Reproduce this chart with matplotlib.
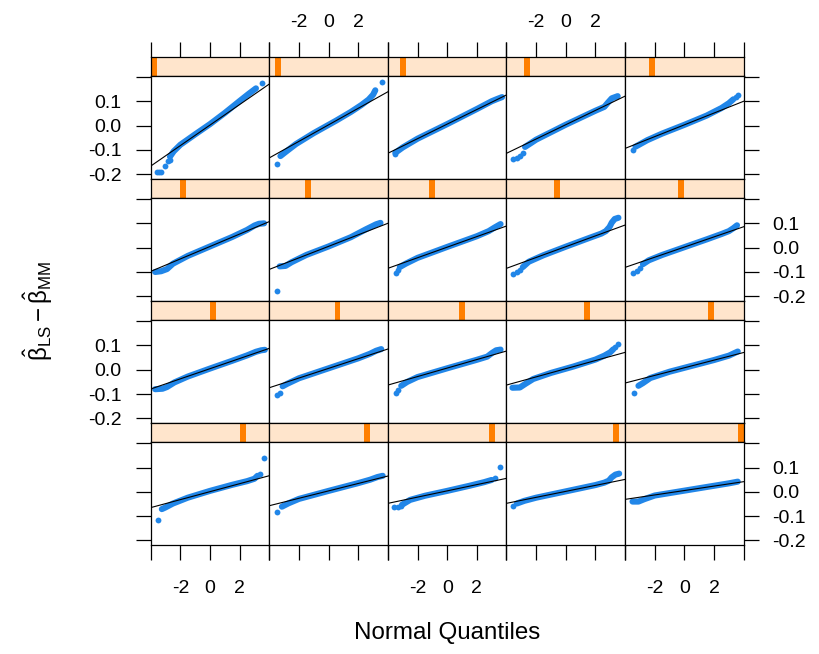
import matplotlib
matplotlib.use("Agg")
import matplotlib.pyplot as plt
from matplotlib.patches import Rectangle

plt.rcParams['font.family'] = ['Liberation Sans', 'DejaVu Sans']
plt.rcParams['mathtext.fontset'] = 'custom'
plt.rcParams['mathtext.rm'] = 'Liberation Sans'
plt.rcParams['mathtext.it'] = 'Liberation Sans:italic'

# qq reference line per panel (intercept, slope), panels 1..20 row by row
line_a = [0.002, 0.003, 0.006, 0.0035, 0.003,
          0.0048, 0.0054, 0.002, 0.004, 0.0025,
          0.0044, 0.0057, 0.007, 0.0043, 0.0082,
          0.0008, 0.004, 0.0041, 0.002, 0.0055]
line_b = [0.0422, 0.034, 0.030, 0.0294, 0.02425,
          0.0256, 0.0237, 0.02175, 0.02225, 0.0209,
          0.0209, 0.0199, 0.0175, 0.0168, 0.0157,
          0.0164, 0.01525, 0.01285, 0.0123, 0.0091]

# dense part of each qq curve (normal quantile, sample value)
p01_x = [-2.7, -2.45, -2.0, -1.0, 0.0, 1.0, 2.0, 2.6, 3.1]
p01_y = [-0.128, -0.106, -0.079, -0.036, 0.006, 0.052, 0.101, 0.130, 0.153]
p02_x = [-3.25, -2.8, -2.2, -1.0, 0.5, 1.5, 2.2, 2.7, 3.0, 3.15]
p02_y = [-0.1255, -0.104, -0.076, -0.031, 0.020, 0.056, 0.084, 0.107, 0.127, 0.145]
p03_x = [-3.5, -3.0, -2.0, 0.0, 2.0, 3.0, 3.4, 3.7]
p03_y = [-0.112, -0.090, -0.054, 0.006, 0.068, 0.100, 0.110, 0.117]
p04_x = [-2.75, -2.0, 0.0, 2.0, 2.6, 2.85, 3.1, 3.5]
p04_y = [-0.088, -0.058, 0.0035, 0.061, 0.077, 0.095, 0.112, 0.121]
p05_x = [-3.3, -2.5, -1.5, 0.0, 1.5, 2.5, 3.0, 3.3]
p05_y = [-0.087, -0.060, -0.033, 0.003, 0.041, 0.072, 0.092, 0.108]
p06_x = [-3.7, -3.3, -2.9, -2.5, -1.5, 0.0, 1.5, 2.5, 3.0, 3.3, 3.65]
p06_y = [-0.100, -0.097, -0.088, -0.066, -0.034, 0.005, 0.044, 0.073, 0.091, 0.098, 0.100]
p07_x = [-3.3, -2.9, -2.5, -1.5, 0.0, 1.5, 2.5, 2.9, 3.2, 3.5]
p07_y = [-0.077, -0.075, -0.060, -0.030, 0.005, 0.043, 0.075, 0.087, 0.096, 0.102]
p08_x = [-3.2, -2.8, -2.0, 0.0, 2.0, 2.8, 3.2, 3.6]
p08_y = [-0.080, -0.066, -0.042, 0.003, 0.047, 0.068, 0.083, 0.097]
p09_x = [-2.9, -2.5, -1.5, 0.0, 1.5, 2.4, 2.7, 2.95, 3.1, 3.3, 3.55]
p09_y = [-0.080, -0.058, -0.031, 0.004, 0.038, 0.058, 0.068, 0.085, 0.103, 0.118, 0.123]
p10_x = [-2.8, -2.4, -1.5, 0.0, 1.5, 2.5, 3.0, 3.3, 3.55]
p10_y = [-0.068, -0.052, -0.030, 0.002, 0.034, 0.056, 0.068, 0.080, 0.092]
p11_x = [-3.7, -3.2, -2.9, -2.4, -1.5, 0.0, 1.5, 2.5, 3.1, 3.45, 3.7]
p11_y = [-0.080, -0.078, -0.071, -0.052, -0.028, 0.005, 0.037, 0.059, 0.074, 0.080, 0.082]
p12_x = [-3.1, -2.8, -2.0, 0.0, 2.0, 2.8, 3.2, 3.55]
p12_y = [-0.068, -0.058, -0.035, 0.006, 0.047, 0.066, 0.078, 0.085]
p13_x = [-3.1, -2.7, -2.0, 0.0, 2.0, 2.7, 3.0, 3.3, 3.6]
p13_y = [-0.066, -0.050, -0.030, 0.006, 0.041, 0.054, 0.068, 0.080, 0.083]
p14_x = [-3.6, -3.1, -2.7, -2.2, -1.0, 0.5, 2.0, 2.6, 3.0, 3.2]
p14_y = [-0.074, -0.073, -0.057, -0.038, -0.013, 0.013, 0.042, 0.058, 0.072, 0.084]
p15_x = [-3.1, -2.8, -2.3, -1.0, 0.5, 2.0, 3.0, 3.6]
p15_y = [-0.066, -0.055, -0.034, -0.008, 0.016, 0.040, 0.058, 0.075]
p16_x = [-3.25, -3.0, -2.5, -1.5, 0.0, 1.5, 2.5, 3.0, 3.2]
p16_y = [-0.071, -0.064, -0.048, -0.024, 0.004, 0.029, 0.044, 0.054, 0.066]
p17_x = [-3.15, -2.7, -2.0, 0.0, 2.0, 2.8, 3.3, 3.65]
p17_y = [-0.061, -0.047, -0.029, 0.004, 0.036, 0.050, 0.061, 0.066]
p18_x = [-3.05, -2.5, -1.5, 0.0, 1.5, 2.5, 3.0]
p18_y = [-0.053, -0.033, -0.016, 0.004, 0.025, 0.040, 0.049]
p19_x = [-3.3, -2.8, -2.0, 0.0, 2.0, 2.6, 2.9, 3.1, 3.35, 3.6]
p19_y = [-0.048, -0.037, -0.024, 0.002, 0.028, 0.038, 0.046, 0.060, 0.071, 0.075]
p20_x = [-3.5, -3.1, -2.7, -2.0, 0.0, 2.0, 3.0, 3.6]
p20_y = [-0.040, -0.040, -0.030, -0.015, 0.005, 0.025, 0.035, 0.042]

# isolated tail points
d01_x = [-3.6, -3.45, -3.3, -3.05, -2.85, -2.7, 3.53]
d01_y = [-0.193, -0.193, -0.19, -0.167, -0.145, -0.14, 0.174]
d02_x = [-3.5, 3.57]
d02_y = [-0.158, 0.178]
d03_x = [-3.55]
d03_y = [-0.118]
d04_x = [-3.54, -3.3, -3.09, -2.9]
d04_y = [-0.139, -0.133, -0.126, -0.112]
d05_x = [-3.45, 3.45, 3.62]
d05_y = [-0.102, 0.118, 0.124]
d07_x = [-3.48]
d07_y = [-0.177]
d08_x = [-3.48, -3.3]
d08_y = [-0.103, -0.09]
d09_x = [-3.54, -3.3, -3.1]
d09_y = [-0.108, -0.100, -0.092]
d10_x = [-3.44, -3.2, -3.0]
d10_y = [-0.106, -0.095, -0.085]
d12_x = [-3.46, -3.25]
d12_y = [-0.104, -0.094]
d13_x = [-3.48, -3.3]
d13_y = [-0.094, -0.085]
d14_x = [3.35, 3.55]
d14_y = [0.095, 0.105]
d15_x = [-3.42]
d15_y = [-0.096]
d16_x = [-3.53, 3.35, 3.65]
d16_y = [-0.116, 0.072, 0.138]
d17_x = [-3.46]
d17_y = [-0.084]
d18_x = [-3.6, -3.35, -3.15, 3.22, 3.56]
d18_y = [-0.061, -0.061, -0.058, 0.056, 0.104]
d19_x = [-3.54]
d19_y = [-0.060]

bands = [(p01_x, p01_y), (p02_x, p02_y), (p03_x, p03_y), (p04_x, p04_y), (p05_x, p05_y),
         (p06_x, p06_y), (p07_x, p07_y), (p08_x, p08_y), (p09_x, p09_y), (p10_x, p10_y),
         (p11_x, p11_y), (p12_x, p12_y), (p13_x, p13_y), (p14_x, p14_y), (p15_x, p15_y),
         (p16_x, p16_y), (p17_x, p17_y), (p18_x, p18_y), (p19_x, p19_y), (p20_x, p20_y)]
dots = [(d01_x, d01_y), (d02_x, d02_y), (d03_x, d03_y), (d04_x, d04_y), (d05_x, d05_y),
        ([], []), (d07_x, d07_y), (d08_x, d08_y), (d09_x, d09_y), (d10_x, d10_y),
        ([], []), (d12_x, d12_y), (d13_x, d13_y), (d14_x, d14_y), (d15_x, d15_y),
        (d16_x, d16_y), (d17_x, d17_y), (d18_x, d18_y), (d19_x, d19_y), ([], [])]

x_ticks = [-4, -2, 0, 2, 4]
x_labels = ['', '-2', '0', '2', '']
y_ticks = [-0.2, -0.1, 0.0, 0.1, 0.2]
y_labels = ['-0.2', '-0.1', '0.0', '0.1', '']
n_levels = 20

blue = '#2186e8'
W, H = 820, 654
left0, top0 = 150.7, 56.7
pw, ph, sh = 118.6, 102.6, 19.5
tick_len = 10.8


def box(x, y, w, h):
    return [x / W, 1 - (y + h) / H, w / W, h / H]


fig = plt.figure(figsize=(8.2, 6.54), dpi=100)

for k in range(20):
    r, c = k // 5, k % 5
    x0 = left0 + c * pw
    y0 = top0 + r * (sh + ph)

    # strip with the level indicator
    st = fig.add_axes(box(x0, y0, pw, sh))
    st.set_facecolor('#ffe5cc')
    st.add_patch(Rectangle((k / n_levels, 0), 1 / n_levels, 1,
                           transform=st.transAxes, color='#ff7f00', lw=0))
    st.set_xlim(-4, 4)
    st.set_yticks([])
    st.set_xticks(x_ticks)
    st.set_xticklabels(x_labels)
    st.tick_params(axis='x', bottom=False, labelbottom=False,
                   top=(r == 0), labeltop=(r == 0 and c % 2 == 1),
                   direction='out', length=tick_len, width=0.9,
                   labelsize=14, pad=8)
    for s in st.spines.values():
        s.set_linewidth(0.9)

    ax = fig.add_axes(box(x0, y0 + sh, pw, ph))
    bx, by = bands[k]
    ax.plot(bx, by, color=blue, lw=4.4, solid_capstyle='round',
            solid_joinstyle='round')
    dx, dy = dots[k]
    ax.plot(dx, dy, 'o', color=blue, ms=4.2, mec='none')
    ax.axline((0, line_a[k]), slope=line_b[k], color='black', lw=0.8)
    ax.set_xlim(-4, 4)
    ax.set_ylim(-0.219, 0.203)
    ax.set_xticks(x_ticks)
    ax.set_xticklabels(x_labels)
    ax.set_yticks(y_ticks)
    ax.set_yticklabels(y_labels)
    ax.tick_params(axis='x', top=False, labeltop=False,
                   bottom=(r == 3), labelbottom=(r == 3 and c % 2 == 0),
                   direction='out', length=tick_len, width=0.9,
                   labelsize=14, pad=14)
    ax.tick_params(axis='y', left=(c == 0), labelleft=(c == 0 and r % 2 == 0),
                   right=(c == 4), labelright=(c == 4 and r % 2 == 1),
                   direction='out', length=tick_len, width=0.9,
                   labelsize=14, pad=10)
    for s in ax.spines.values():
        s.set_linewidth(0.9)

fig.text(447 / W, 1 - 633 / H, 'Normal Quantiles', fontsize=17.4,
         ha='center', va='center')
fig.text(38 / W, 1 - 311 / H,
         r'$\hat{\mathrm{\beta}}_{\mathrm{LS}} - \hat{\mathrm{\beta}}_{\mathrm{MM}}$',
         fontsize=17.4, rotation=90, ha='center', va='center')

fig.savefig('out.png', dpi=100)
